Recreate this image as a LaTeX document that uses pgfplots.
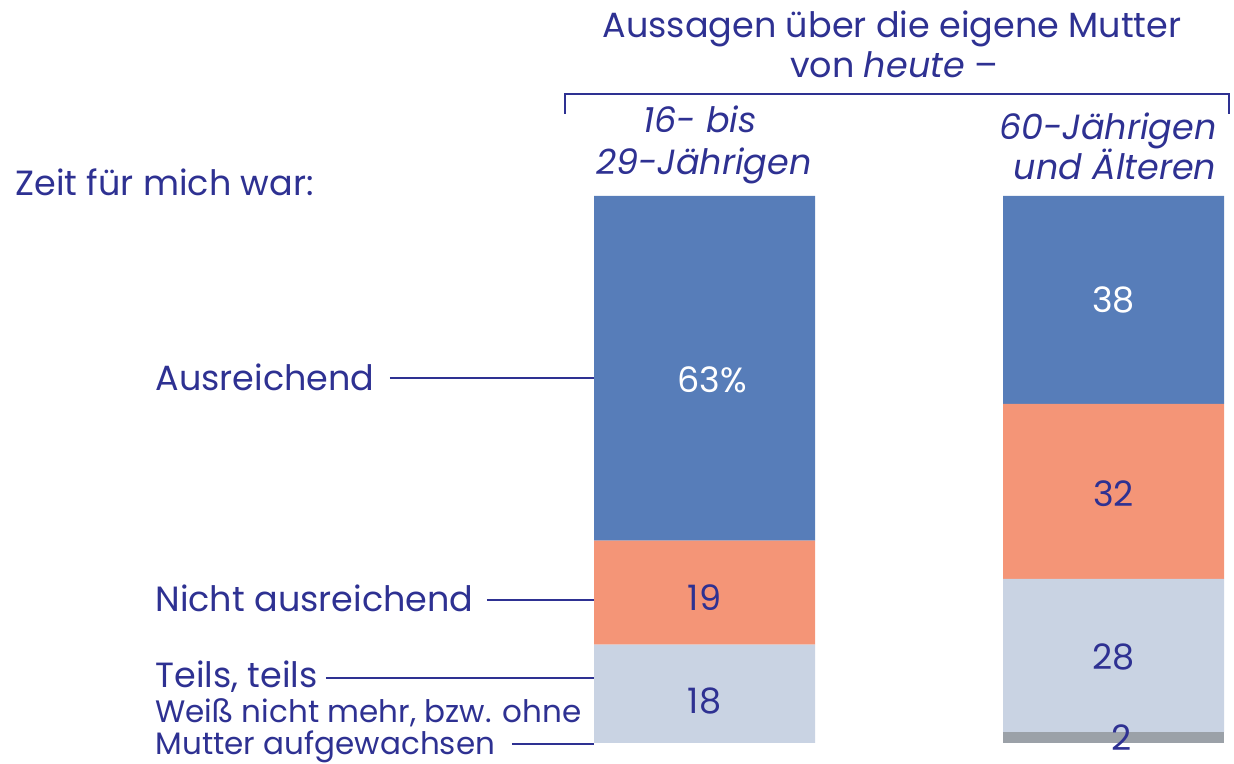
\documentclass[border=0pt]{standalone}
\usepackage{pgfplots}
\pgfplotsset{compat=1.18}
\usepackage{fontspec}
\setmainfont{Poppins}
\definecolor{txt}{HTML}{2E3192}
\definecolor{cblue}{HTML}{577DB9}
\definecolor{csalmon}{HTML}{F49577}
\definecolor{clight}{HTML}{C9D3E3}
\definecolor{cgrey}{HTML}{9BA1A8}
% picture coordinates in pixels of the 1234x763 reference
\newcommand\px[2]{(rel axis cs:{#1/1234},{1-#2/763})}
\tikzset{lbl/.style={inner sep=0pt, anchor=base west}}
\begin{document}
\begin{tikzpicture}[font=\fontsize{14}{16}\selectfont, text=txt]
\begin{axis}[
  scale only axis, width=493.6pt, height=305.2pt,
  xmin=0, xmax=1234, ymin=-3.656, ymax=135.83,
  hide axis, clip=false,
  ybar stacked, bar width=221,
]
% Weiss nicht mehr / ohne Mutter
\addplot[fill=cgrey, draw=none] coordinates {(704.5,0) (1113.5,2)};
% Teils, teils
\addplot[fill=clight, draw=none] coordinates {(704.5,18) (1113.5,28)};
% Nicht ausreichend
\addplot[fill=csalmon, draw=none] coordinates {(704.5,19) (1113.5,32)};
% Ausreichend
\addplot[fill=cblue, draw=none] coordinates {(704.5,63) (1113.5,38)};

\path \px{0}{0} rectangle \px{1234}{763};

% value positions, labelled after the axis so they sit on top of the bars
\coordinate (a1) at (axis cs:712,66.4);
\coordinate (a2) at (axis cs:704.5,26.5);
\coordinate (a3) at (axis cs:704.5,7.6);
\coordinate (b1) at (axis cs:1113.5,81);
\coordinate (b2) at (axis cs:1113.5,45.5);
\coordinate (b3) at (axis cs:1113.5,15.7);
\coordinate (b4) at (axis cs:1122,0.9);

% title and bracket
\node[anchor=base] at \px{892}{38} {Aussagen über die eigene Mutter};
\node[anchor=base] at \px{894}{78} {von \textit{heute} –};
\draw[txt, line width=0.5pt] \px{565}{114} -- \px{565}{94} -- \px{1229}{94} -- \px{1229}{114};
\node[anchor=base, font=\fontsize{14}{16}\selectfont\itshape] at \px{700}{133} {16- bis};
\node[anchor=base, font=\fontsize{14}{16}\selectfont\itshape] at \px{704}{175} {29-Jährigen};
\node[anchor=base, font=\fontsize{14}{16}\selectfont\itshape] at \px{1108}{140} {60-Jährigen};
\node[anchor=base, font=\fontsize{14}{16}\selectfont\itshape] at \px{1115}{180} {und Älteren};

% row labels
\node[lbl] at \px{15}{196} {Zeit für mich war:};
\node[lbl] at \px{155}{391} {Ausreichend};
\node[lbl] at \px{155}{612} {Nicht ausreichend};
\node[lbl] at \px{155}{688} {Teils, teils};
\node[lbl, font=\fontsize{12.4}{14}\selectfont] at \px{155}{723} {Weiß nicht mehr, bzw. ohne};
\node[lbl, font=\fontsize{12.4}{14}\selectfont] at \px{155}{755} {Mutter aufgewachsen};
\draw[txt, line width=0.6pt] \px{390}{378} -- \px{594}{378};
\draw[txt, line width=0.6pt] \px{487}{600} -- \px{594}{600};
\draw[txt, line width=0.6pt] \px{326}{678} -- \px{594}{678};
\draw[txt, line width=0.6pt] \px{512}{744} -- \px{594}{744};
\end{axis}
\node[text=white] at (a1) {63\%};
\node at (a2) {19};
\node at (a3) {18};
\node[text=white] at (b1) {38};
\node at (b2) {32};
\node at (b3) {28};
\node at (b4) {2};
\end{tikzpicture}
\end{document}
